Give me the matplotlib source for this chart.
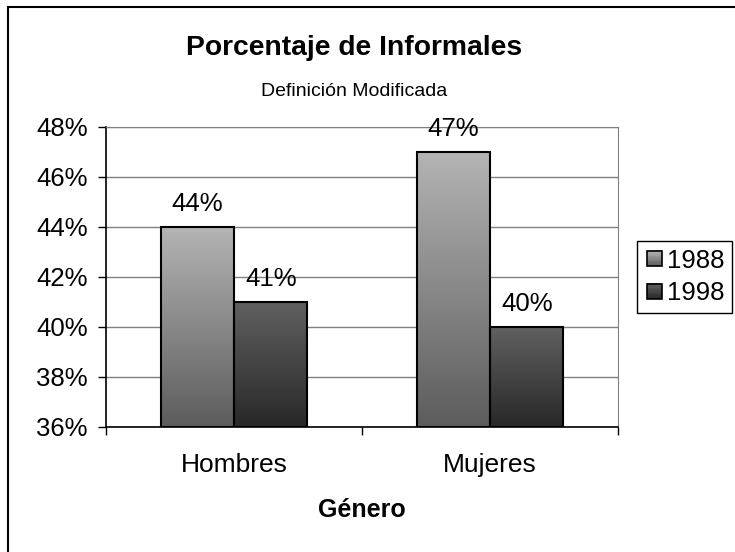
import numpy as np
import matplotlib
matplotlib.use("Agg")
import matplotlib.pyplot as plt
from matplotlib.patches import Rectangle
from matplotlib.legend_handler import HandlerBase
from matplotlib.ticker import PercentFormatter

plt.rcParams["font.family"] = ["Liberation Sans", "DejaVu Sans"]

categories = ["Hombres", "Mujeres"]
years = ["1988", "1998"]
values_1988 = [0.44, 0.47]
values_1998 = [0.41, 0.40]
value_labels_1988 = ["44%", "47%"]
value_labels_1998 = ["41%", "40%"]

# top colour -> bottom colour of each series' gradient
gradients = {
    "1988": ("#b4b4b4", "#5c5c5c"),
    "1998": ("#606060", "#282828"),
}


def gradient_cmap(top, bottom):
    return matplotlib.colors.LinearSegmentedColormap.from_list("g", [bottom, top])


class GradientSquare(HandlerBase):
    def __init__(self, top, bottom):
        super().__init__()
        self.top, self.bottom = top, bottom

    def create_artists(self, legend, orig_handle, xdescent, ydescent, width, height, fontsize, trans):
        size = height * 0.85
        x0 = -xdescent + (width - size) / 2
        y0 = -ydescent + (height - size) / 2
        cmap = gradient_cmap(self.top, self.bottom)
        n = 12
        artists = []
        for i in range(n):
            artists.append(Rectangle((x0, y0 + size * i / n), size, size / n + 0.3,
                                     facecolor=cmap(i / (n - 1)), edgecolor="none", transform=trans))
        artists.append(Rectangle((x0, y0), size, size, facecolor="none", edgecolor="black",
                                 linewidth=1.2, transform=trans))
        return artists


fig = plt.figure(figsize=(7.35, 5.52), dpi=100)
ax = fig.add_axes([106 / 735, 1 - 427 / 552, 512 / 735, 300 / 552])

x = np.arange(len(categories))
width = 0.287

handles = []
for offset, year, vals, labels in [(-width / 2, "1988", values_1988, value_labels_1988),
                                   (width / 2, "1998", values_1998, value_labels_1998)]:
    bars = ax.bar(x + offset, np.array(vals) - 0.36, width, bottom=0.36, facecolor="none",
                  edgecolor="black", linewidth=1.5, zorder=4, label=year)
    handles.append(bars)
    cmap = gradient_cmap(*gradients[year])
    grad = np.linspace(0, 1, 256).reshape(-1, 1)
    for bar, lab in zip(bars, labels):
        bx, by = bar.get_x(), bar.get_y()
        im = ax.imshow(grad, cmap=cmap, origin="lower", aspect="auto", zorder=3,
                       extent=(bx, bx + bar.get_width(), by, by + bar.get_height()))
        im.set_clip_path(bar)
        ax.annotate(lab, (bx + bar.get_width() / 2, by + bar.get_height()), xytext=(0, 8),
                    textcoords="offset points", ha="center", va="bottom", fontsize=18.5)

ax.set_xlim(-0.5, 1.5)
ax.set_ylim(0.36, 0.48)

ax.yaxis.set_major_formatter(PercentFormatter(1.0, decimals=0))
ax.set_yticks(np.arange(0.36, 0.4801, 0.02))
ax.tick_params(axis="y", direction="out", length=6, width=1, pad=7, labelsize=18.5)
ax.yaxis.grid(True, color="#808080", linewidth=1)
ax.set_axisbelow(True)

ax.set_xticks([-0.5, 0.5, 1.5])
ax.set_xticklabels([])
ax.tick_params(axis="x", which="major", direction="out", length=6, width=1)
ax.set_xticks(x, minor=True)
ax.set_xticklabels(categories, minor=True)
ax.tick_params(axis="x", which="minor", length=0, pad=19, labelsize=19)

for side in ["top", "right"]:
    ax.spines[side].set_color("#808080")
for side in ["left", "bottom"]:
    ax.spines[side].set_color("black")
    ax.spines[side].set_linewidth(1.2)

fig.text(354 / 735, 1 - 48 / 552, "Porcentaje de Informales", ha="center", va="center",
         fontsize=20.3, fontweight="bold")
fig.text(354 / 735, 1 - 92 / 552, "Definición Modificada", ha="center", va="center", fontsize=14)
fig.text(362 / 735, 1 - 510 / 552, "Género", ha="center", va="center", fontsize=18,
         fontweight="bold")

leg = ax.legend(handles, years, loc="center left", bbox_to_anchor=(637 / 735, 1 - 277 / 552),
                bbox_transform=fig.transFigure, fontsize=18.5, frameon=True, fancybox=False,
                edgecolor="black", framealpha=1, borderpad=0.3, handlelength=0.75,
                handletextpad=0.1, labelspacing=0.35, borderaxespad=0,
                handler_map={handles[0]: GradientSquare(*gradients["1988"]),
                             handles[1]: GradientSquare(*gradients["1998"])})
leg.get_frame().set_linewidth(1)

fig.patches.append(Rectangle((8 / 735, -0.1), 1.1, 1 - 7 / 552 + 0.1, transform=fig.transFigure,
                             facecolor="none", edgecolor="black", linewidth=1.5, figure=fig))

fig.savefig("out.png", dpi=100)
